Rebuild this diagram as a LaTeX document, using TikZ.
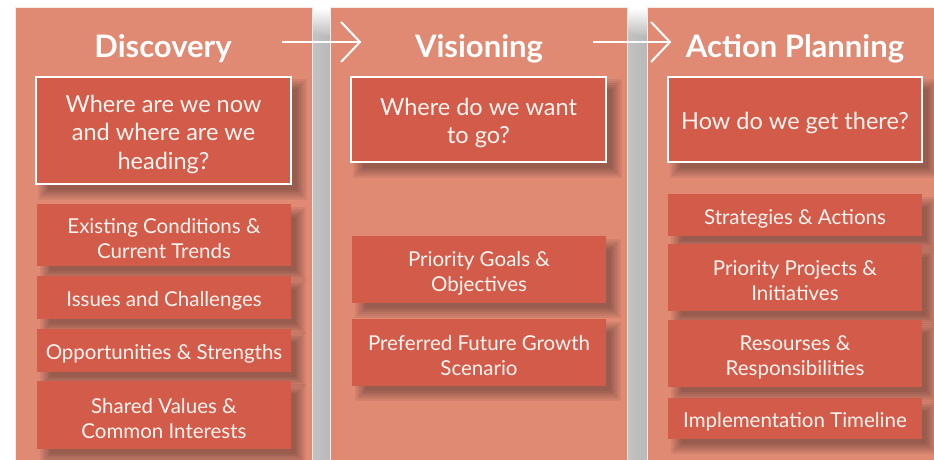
\documentclass[tikz,border=0pt]{standalone}
\usepackage{fontspec}
\setmainfont{Lato}
\usetikzlibrary{calc}
\definecolor{panelc}{HTML}{E08A74}
\definecolor{boxc}{HTML}{D35B4A}
\definecolor{txtc}{HTML}{FFF4F0}
\definecolor{gapc}{HTML}{B8B8B8}
\pgfdeclarelayer{panel}
\pgfdeclarelayer{shad}
\pgfsetlayers{panel,shad,main}
\tikzset{
  qbox/.style={fill=boxc, draw=white, line width=1.2pt, inner sep=0pt},
  sbox/.style={fill=boxc, inner sep=0pt},
  qtxt/.style={text=txtc, align=center, font=\fontsize{23.5}{28.5}\selectfont, inner sep=0pt},
  stxt/.style={text=txtc, align=center, font=\fontsize{20.5}{25}\selectfont, inner sep=0pt},
  ttl/.style={text=white, font=\fontsize{31}{34}\selectfont\bfseries},
  flow/.style={draw=white, line width=2pt},
}
\newcommand{\mkbox}[8]{% box style, text style, name, x1, y1, x2, y2, text
  \node[#1, minimum width={(#6-#4)*1pt}, minimum height={(#7-#5)*1pt}] (#3) at ({(#4+#6)/2},{(#5+#7)/2}) {};
  \node[#2] (#3-t) at ($(#3.center)+(0,3.5)$) {#8};
  \begin{pgfonlayer}{shad}
    \foreach \e in {-4,-2,0,2,4,6}{
      \fill[black, opacity=0.06] ($(#3.north west)+(9-\e,9-\e)$) rectangle ($(#3.south east)+(9+\e,9+\e)$);
    }
  \end{pgfonlayer}
}
\begin{document}
\begin{tikzpicture}[x=1pt,y=-1pt]
\useasboundingbox (0,0) rectangle (934,460);
\begin{pgfonlayer}{panel}
  \fill[white] (0,0) rectangle (934,460);
  % gaps
  \foreach \gx in {312,628}{
    \shade[left color=gapc!85, right color=gapc] (\gx,35) rectangle (\gx+19,461);
    \shade[top color=white, bottom color=gapc!90] (\gx,8) rectangle (\gx+19,35);
  }
  \filldraw[fill=panelc, draw=white!80!panelc, line width=0.8pt] (15,7) rectangle (312,462);
  \filldraw[fill=panelc, draw=white!80!panelc, line width=0.8pt] (330,7) rectangle (627,462);
  \filldraw[fill=panelc, draw=white!80!panelc, line width=0.8pt] (647,7) rectangle (936,462);
\end{pgfonlayer}

\node[ttl] (t1) at (163,49) {Discovery};
\node[ttl] (t2) at (479,49) {Visioning};
\node[ttl] (t3) at (795,49) {Action Planning};

% arrows
\coordinate (a1s) at (282,42); \coordinate (a1e) at (360,42);
\coordinate (a2s) at (593,42); \coordinate (a2e) at (670,42);
\draw[flow] (a1s) -- (a1e);
\draw[flow, line join=miter] ($(a1e)+(-19,-20)$) -- (a1e) -- ($(a1e)+(-19,20)$);
\draw[flow] (a2s) -- (a2e);
\draw[flow, line join=miter] ($(a2e)+(-19,-20)$) -- (a2e) -- ($(a2e)+(-19,20)$);

% panel 1
\mkbox{qbox}{qtxt}{q1}{36}{77}{291}{184}{Where are we now\\and where are we\\heading?}
\mkbox{sbox}{stxt}{b11}{37}{204}{291}{266}{Existing Conditions \&\\Current Trends}
\mkbox{sbox}{stxt}{b12}{37}{276}{291}{319}{Issues and Challenges}
\mkbox{sbox}{stxt}{b13}{37}{329}{291}{372}{Opportunities \& Strengths}
\mkbox{sbox}{stxt}{b14}{37}{381}{291}{449}{Shared Values \&\\Common Interests}

% panel 2
\mkbox{qbox}{qtxt}{q2}{351}{77}{606}{162}{Where do we want\\to go?}
\mkbox{sbox}{stxt}{b21}{352}{236}{606}{303}{Priority Goals \&\\Objectives}
\mkbox{sbox}{stxt}{b22}{352}{319}{606}{386}{Preferred Future Growth\\Scenario}

% panel 3
\mkbox{qbox}{qtxt}{q3}{668}{77}{922}{162}{How do we get there?}
\mkbox{sbox}{stxt}{b31}{668}{194}{922}{236}{Strategies \& Actions}
\mkbox{sbox}{stxt}{b32}{668}{244}{922}{311}{Priority Projects \&\\Initiatives}
\mkbox{sbox}{stxt}{b33}{668}{320}{922}{387}{Resourses \&\\Responsibilities}
\mkbox{sbox}{stxt}{b34}{668}{398}{922}{439}{Implementation Timeline}
\end{tikzpicture}
\end{document}
